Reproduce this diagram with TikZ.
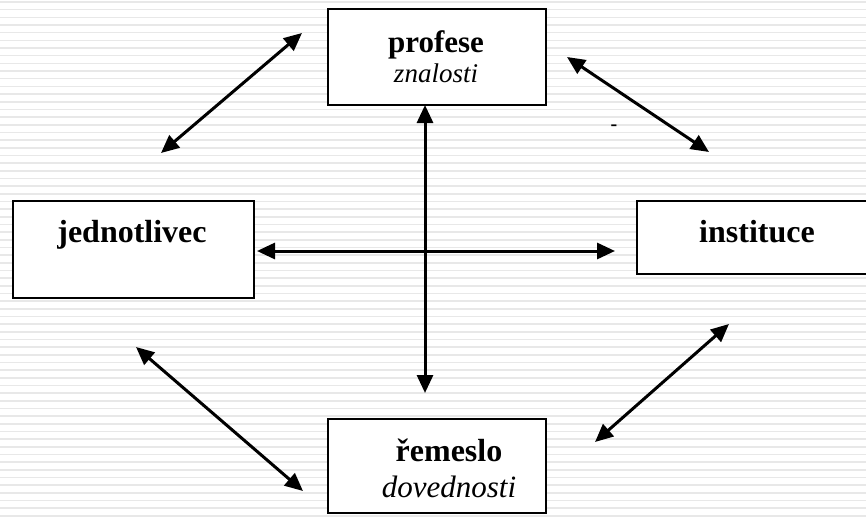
\documentclass[tikz,border=0pt]{standalone}
\usepackage{fontspec}
\setmainfont{Liberation Serif}
\usetikzlibrary{arrows.meta,positioning}
\tikzset{
  boxnode/.style={draw,line width=2pt,fill=white,inner sep=0pt},
  link/.style={line width=3pt,{Triangle[length=18pt,width=16pt]}-{Triangle[length=18pt,width=16pt]}},
  headtext/.style={font=\fontsize{32}{36}\selectfont\bfseries,anchor=base,inner sep=0pt},
  subtext/.style={font=\fontsize{31}{36}\selectfont\itshape,anchor=base,inner sep=0pt},
}
\begin{document}
\begin{tikzpicture}[x=1pt,y=-1pt]
  \useasboundingbox (0,0) rectangle (866,516);
  \clip (0,0) rectangle (866,516);
  %BACKGROUND
  \foreach \k in {0,...,67}
    \draw[gray!18,line width=1.6pt] (0,{2+7.67*\k}) -- (866,{2+7.67*\k});
  %BOXES
  \node[boxnode,minimum width=218pt,minimum height=96pt] (profese) at (437,57) {};
  \node[boxnode,minimum width=241pt,minimum height=97pt] (jednotlivec) at (133.5,249.5) {};
  \node[boxnode,minimum width=243pt,minimum height=73pt] (instituce) at (758.5,237.5) {};
  \node[boxnode,minimum width=218pt,minimum height=94pt] (remeslo) at (437,466) {};
  %TEXTS
  \node[headtext,font=\fontsize{31}{36}\selectfont\bfseries] (profeseT) at (436,53) {profese};
  \node[subtext,font=\fontsize{27}{32}\selectfont\itshape] (znalostiT) at (436,83) {znalosti};
  \node[headtext] (jednotlivecT) at (132,242) {jednotlivec};
  \node[headtext] (instituceT) at (757,242) {instituce};
  \node[headtext] (remesloT) at (449,461) {řemeslo};
  \node[subtext] (dovednostiT) at (449,497) {dovednosti};
  \node[font=\fontsize{20}{22}\selectfont\bfseries,inner sep=0pt] (dash) at (614,128) {-};
  %ARROWS
  \coordinate (vt) at (425,105);
  \coordinate (vb) at (425,393);
  \coordinate (hl) at (257,251);
  \coordinate (hr) at (615,251);
  \coordinate (tlA) at (161,153);
  \coordinate (tlB) at (302,33);
  \coordinate (trA) at (567,57);
  \coordinate (trB) at (709,152);
  \coordinate (blA) at (136,347);
  \coordinate (blB) at (303,491);
  \coordinate (brA) at (595,442);
  \coordinate (brB) at (729,324);
  \draw[link] (vt) -- (vb);
  \draw[link] (hl) -- (hr);
  \draw[link] (tlA) -- (tlB);
  \draw[link] (trA) -- (trB);
  \draw[link] (blA) -- (blB);
  \draw[link] (brA) -- (brB);
\end{tikzpicture}
\end{document}
